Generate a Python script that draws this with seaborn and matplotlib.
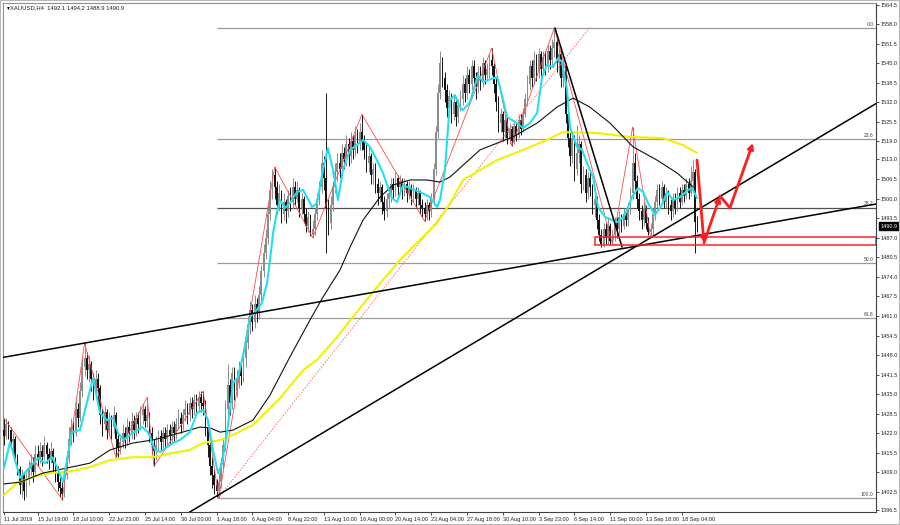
import numpy as np
import pandas as pd
import matplotlib
matplotlib.use("Agg")
import matplotlib.pyplot as plt
from matplotlib.patches import Rectangle
import seaborn as sns

# H4 candles, bar 0 = 11 Jul 2019; open of each bar = previous close
first_open = 1423.0
closes = [
    1421, 1425, 1423, 1419, 1420, 1414, 1410, 1405, 1408, 1403,
    1407, 1410, 1412, 1409, 1415, 1413, 1416, 1414, 1418, 1415,
    1413, 1416, 1412, 1409, 1406, 1404, 1402, 1408, 1414, 1420,
    1424, 1422, 1430, 1427, 1436, 1444, 1447, 1443, 1445, 1440,
    1436, 1440, 1437, 1428, 1425, 1429, 1423, 1426, 1424, 1428,
    1420, 1417, 1419, 1422, 1420, 1424, 1422, 1426, 1423, 1427,
    1425, 1428, 1430, 1426, 1428, 1422, 1418, 1416, 1418, 1421,
    1419, 1422, 1420, 1423, 1421, 1424, 1422, 1425, 1427, 1425,
    1428, 1430, 1428, 1432, 1430, 1433, 1431, 1434, 1432, 1431,
    1424, 1418, 1411, 1408, 1405, 1403, 1406, 1412, 1418, 1430,
    1438, 1432, 1442, 1436, 1440, 1443, 1441, 1447, 1452, 1458,
    1463, 1459, 1465, 1462, 1468, 1476, 1482, 1487, 1495, 1503,
    1508, 1504, 1498, 1502, 1495, 1499, 1496, 1501, 1499, 1504,
    1500, 1503, 1497, 1500, 1495, 1491, 1494, 1488, 1490, 1495,
    1500, 1504, 1512, 1507, 1497, 1492, 1498, 1504, 1509, 1512,
    1510, 1515, 1513, 1518, 1514, 1519, 1516, 1521, 1518, 1522,
    1519, 1516, 1512, 1514, 1508, 1510, 1505, 1502, 1504, 1499,
    1496, 1500, 1502, 1505, 1503, 1507, 1504, 1506, 1503, 1505,
    1502, 1504, 1501, 1503, 1500, 1502, 1498, 1497, 1495, 1498,
    1496, 1500, 1510, 1522, 1535, 1545, 1540, 1536, 1530, 1534,
    1528, 1532, 1527, 1531, 1533, 1538, 1535, 1541, 1538, 1544,
    1540, 1537, 1542, 1539, 1545, 1541, 1543, 1546, 1544, 1538,
    1532, 1525, 1528, 1522, 1526, 1520, 1523, 1519, 1524, 1521,
    1526, 1523, 1528, 1533, 1538, 1544, 1540, 1546, 1542, 1548,
    1543, 1547, 1544, 1549, 1546, 1550, 1552, 1545, 1548, 1540,
    1544, 1528, 1520, 1514, 1520, 1510, 1515, 1518, 1505, 1508,
    1502, 1507, 1504, 1498, 1500, 1493, 1488, 1485, 1490, 1487,
    1491, 1486, 1488, 1492, 1490, 1494, 1491, 1495, 1493, 1497,
    1502, 1512, 1506, 1500, 1496, 1493, 1497, 1492, 1489, 1490,
    1495, 1499, 1503, 1500, 1504, 1499, 1502, 1498, 1496, 1500,
    1497, 1502, 1499, 1503, 1501, 1505, 1502, 1506, 1509, 1492.1,
    1490.9,
]
highs = [
    1427, 1427, 1426, 1424, 1422, 1421, 1415, 1411, 1410, 1409,
    1409, 1413, 1415, 1414, 1418, 1418, 1419, 1418, 1421, 1419,
    1417, 1419, 1417, 1414, 1411, 1408, 1406, 1410, 1416, 1424,
    1427, 1426, 1433, 1432, 1439, 1447, 1452, 1449, 1448, 1446,
    1442, 1443, 1442, 1438, 1430, 1431, 1430, 1429, 1428, 1431,
    1429, 1422, 1421, 1425, 1424, 1427, 1426, 1429, 1428, 1429,
    1429, 1431, 1432, 1431, 1434, 1429, 1424, 1420, 1421, 1423,
    1423, 1424, 1424, 1425, 1425, 1426, 1426, 1427, 1430, 1429,
    1430, 1433, 1432, 1434, 1434, 1435, 1435, 1436, 1436, 1436,
    1433, 1426, 1420, 1414, 1410, 1407, 1409, 1414, 1420, 1433,
    1445, 1440, 1444, 1444, 1443, 1446, 1446, 1450, 1455, 1461,
    1466, 1465, 1468, 1467, 1471, 1478, 1485, 1490, 1498, 1506,
    1510, 1510.5, 1506, 1505, 1503, 1502, 1500, 1503, 1504, 1507,
    1506, 1506, 1504, 1502, 1501, 1497, 1496, 1495, 1493, 1497,
    1502, 1506, 1516, 1514, 1535, 1500, 1501, 1506, 1512, 1515,
    1515, 1518, 1517, 1521, 1520, 1522, 1521, 1524, 1523, 1525,
    1528, 1521, 1518, 1517, 1515, 1512, 1512, 1507, 1506, 1505,
    1501, 1502, 1504, 1507, 1507, 1509, 1508, 1508, 1507, 1507,
    1506, 1506, 1505, 1505, 1504, 1504, 1503, 1500, 1499, 1500,
    1499, 1502, 1512, 1524, 1538, 1549, 1547, 1542, 1538, 1536,
    1535, 1534, 1533, 1533, 1536, 1541, 1540, 1544, 1543, 1546,
    1546, 1542, 1544, 1544, 1547, 1546, 1545, 1548, 1550, 1545,
    1540, 1534, 1530, 1529, 1528, 1527, 1525, 1524, 1526, 1525,
    1528, 1528, 1530, 1535, 1541, 1546, 1546, 1549, 1548, 1550,
    1549, 1549, 1549, 1551, 1551, 1553, 1556.7, 1553, 1550, 1549,
    1546, 1545, 1530, 1522, 1522, 1521, 1524.5, 1521, 1519, 1511,
    1510, 1509, 1509, 1505, 1502, 1501, 1495, 1490, 1492, 1492,
    1494, 1492, 1490, 1494, 1494, 1496, 1495, 1497, 1497, 1499,
    1504, 1523.8, 1515, 1508, 1502, 1498, 1499, 1498, 1494, 1492,
    1497, 1501, 1505, 1505, 1506, 1505, 1504, 1503, 1500, 1502,
    1502, 1504, 1504, 1505, 1505, 1507, 1507, 1511, 1513, 1510,
    1494.2,
]
lows = [
    1418, 1420, 1420, 1417, 1416, 1412, 1408, 1402, 1401, 1400,
    1401, 1405, 1408, 1406, 1408, 1411, 1412, 1411, 1413, 1412,
    1410, 1412, 1409, 1406, 1403, 1401, 1400, 1401, 1407, 1412,
    1418, 1419, 1421, 1424, 1426, 1434, 1441, 1440, 1439, 1436,
    1433, 1434, 1432, 1425, 1421, 1423, 1420, 1421, 1420, 1422,
    1414, 1414, 1415, 1417, 1417, 1418, 1419, 1420, 1420, 1421,
    1422, 1423, 1425, 1424, 1424, 1419, 1415, 1411, 1413, 1416,
    1416, 1417, 1417, 1418, 1418, 1419, 1419, 1420, 1423, 1422,
    1423, 1426, 1425, 1426, 1427, 1428, 1428, 1429, 1429, 1428,
    1421, 1414, 1408, 1404, 1402, 1401, 1400.5, 1404, 1410, 1416,
    1425, 1428, 1430, 1433, 1434, 1437, 1438, 1439, 1444, 1450,
    1455, 1456, 1457, 1459, 1460, 1466, 1474, 1480, 1485, 1493,
    1500, 1500, 1495, 1496, 1492, 1493, 1492, 1494, 1496, 1497,
    1498, 1499, 1494, 1495, 1492, 1489, 1489, 1487.5, 1487, 1488,
    1493, 1498, 1502, 1503, 1482, 1488, 1490, 1496, 1502, 1506,
    1507, 1508, 1510, 1511, 1511, 1512, 1513, 1514, 1515, 1516,
    1516, 1513, 1509, 1509, 1505, 1505, 1502, 1498, 1499, 1495,
    1493, 1494, 1497, 1499, 1500, 1501, 1501, 1502, 1500, 1501,
    1499, 1500, 1498, 1499, 1497, 1498, 1495, 1494, 1492.5, 1493,
    1493, 1494, 1498, 1508, 1520, 1533, 1537, 1532, 1527, 1528,
    1525, 1526, 1524, 1525, 1529, 1531, 1532, 1533, 1535, 1536,
    1537, 1533, 1535, 1536, 1537, 1538, 1539, 1540, 1541, 1535,
    1529, 1522, 1522, 1519, 1520, 1518, 1518, 1517.5, 1518, 1519,
    1520, 1521, 1522, 1527, 1531, 1536, 1537, 1538, 1539, 1540,
    1540, 1541, 1541, 1542, 1543, 1544, 1547, 1542, 1541, 1537,
    1537, 1525, 1517, 1511, 1512, 1506, 1508, 1512, 1502, 1503,
    1499, 1500, 1501, 1495, 1494, 1490, 1486, 1484, 1484, 1485,
    1485, 1485, 1484.9, 1486, 1487, 1488, 1489, 1490, 1491, 1491,
    1495, 1500, 1503, 1497, 1493, 1490, 1491, 1490, 1488, 1487.3,
    1488, 1493, 1497, 1498, 1499, 1497, 1497, 1495, 1493, 1494,
    1495, 1496, 1497, 1498, 1499, 1500, 1500, 1501, 1503, 1482,
    1488.9,
]

# indicator lines (bar index, price)
fast_ma_bar = [0, 2.7, 7.2, 11.6, 15.2, 18.3, 21.5, 23.7, 26.4, 30.4, 34.0, 39.8,
               42.9, 46.0, 48.7, 51.0, 53.2, 57.7, 61.7, 64.4, 67.5, 69.7, 72.9,
               75.5, 78.7, 83.1, 86.3, 89.0, 91.2, 93.4, 95.7, 97.5, 99.7, 102.4,
               104.6, 107.7, 110.0, 112.2, 115.3, 117.6, 118.9, 120.3, 122.0,
               123.4, 125.6, 127.8, 131.0, 133.7, 137.7, 139.9, 142.6, 144.8,
               147.1, 149.3, 151.5, 154.7, 157.8, 160.5, 163.6, 166.7, 169.4,
               173.4, 175.7, 178.4, 181.5, 185.9, 190.4, 193.6, 194.9, 197.1,
               199.4, 201.6, 203.8, 205.2, 208.3, 211.9, 214.1, 220.4, 221.7,
               224.9, 229.3, 232.0, 235.1, 238.3, 240.5, 242.7, 245.4, 247.7,
               249.4, 251.7, 253.0, 256.1, 258.4, 260.6, 263.3, 265.5, 268.7,
               271.8, 274.5, 277.6, 280.7, 283.4, 285.7, 287.9, 291.0, 294.1,
               296.4, 299.1, 302.2, 305.8, 307.6, 309.8]
fast_ma = [1410.5, 1419.1, 1407.2, 1410.8, 1413.8, 1412.1, 1414.1, 1410.8, 1405.8,
           1422.4, 1423.1, 1440.4, 1428.8, 1426.4, 1427.1, 1422.1, 1419.8, 1422.1,
           1424.1, 1422.4, 1416.5, 1415.8, 1417.5, 1418.8, 1419.8, 1422.4, 1428.8,
           1429.8, 1426.4, 1416.5, 1408.8, 1412.1, 1422.1, 1438.7, 1440.7, 1450.7,
           1460.7, 1462.3, 1465.3, 1472.0, 1479.6, 1488.6, 1495.6, 1499.5, 1496.9,
           1498.5, 1502.2, 1502.9, 1497.2, 1498.5, 1509.5, 1516.8, 1509.5, 1499.5,
           1509.5, 1516.2, 1517.8, 1519.5, 1517.2, 1512.8, 1508.5, 1500.2, 1498.9,
           1504.5, 1503.5, 1502.2, 1500.5, 1497.2, 1499.5, 1509.5, 1532.8, 1534.4,
           1530.4, 1529.4, 1532.1, 1541.1, 1538.8, 1540.4, 1537.1, 1527.1, 1525.1,
           1523.5, 1525.1, 1528.4, 1540.4, 1544.4, 1543.7, 1546.7, 1545.4, 1536.1,
           1523.8, 1517.2, 1516.2, 1511.8, 1507.2, 1497.2, 1493.9, 1492.9, 1492.2,
           1494.6, 1500.5, 1503.5, 1502.2, 1498.5, 1494.6, 1497.9, 1502.2, 1499.5,
           1500.5, 1502.9, 1503.5, 1500.2]

mid_ma_bar = [0, 7.2, 17.4, 38.4, 47.4, 57.7, 66.6, 75.5, 83.1, 87.6, 92.1, 96.6,
              102.4, 111.3, 118.9, 127.8, 136.8, 142.6, 150.2, 154.7, 160.5, 168.1,
              173.9, 181.5, 189.1, 194.9, 199.4, 212.8, 227.5, 238.3, 247.2, 254.4,
              261.9, 270.9, 281.2, 291.9, 300.9, 308.0]
mid_ma = [1405.2, 1405.8, 1408.8, 1412.1, 1416.5, 1418.8, 1419.8, 1421.5, 1423.1,
          1424.1, 1423.8, 1422.4, 1423.1, 1426.4, 1434.7, 1447.4, 1459.7, 1467.3,
          1476.3, 1483.9, 1492.9, 1500.5, 1504.5, 1506.2, 1506.2, 1505.5, 1507.2,
          1516.2, 1520.5, 1525.1, 1530.4, 1533.4, 1530.4, 1525.1, 1517.2, 1512.8,
          1508.5, 1503.9]

slow_ma_bar = [0, 5.8, 13.0, 20.6, 28.2, 37.1, 47.4, 57.7, 66.6, 75.5, 83.1, 89.0,
               96.6, 102.4, 111.3, 123.4, 133.7, 139.9, 148.9, 156.0, 166.7, 177.0,
               184.6, 193.6, 199.4, 205.2, 220.4, 232.0, 242.7, 249.9, 265.1, 279.8,
               294.6, 303.5, 309.8]
slow_ma = [1401.5, 1405.5, 1407.5, 1408.8, 1409.2, 1410.5, 1413.1, 1414.1, 1414.1,
           1415.5, 1416.5, 1418.8, 1419.8, 1421.5, 1424.8, 1433.7, 1443.0, 1446.4,
           1454.0, 1460.7, 1470.6, 1479.6, 1485.3, 1491.9, 1498.5, 1506.2, 1512.8,
           1516.2, 1519.5, 1522.1, 1521.8, 1520.5, 1520.1, 1517.8, 1515.2]

zigzag_bar = [0, 26, 36, 50, 64, 67, 89, 96, 121, 138, 160, 188, 218, 227, 246, 272, 281, 289]
zigzag_px = [1427, 1400, 1452, 1414, 1434, 1411, 1436, 1400.5, 1510.5, 1487, 1528,
             1492.5, 1550, 1517.5, 1556.7, 1484.9, 1523.8, 1487.3]

# drawing objects
fib_start = 95
fib_levels = [1556.7, 1519.8, 1497.0, 1478.6, 1460.2, 1400.5]
fib_labels = ["0.0", "23.6", "38.2", "50.0", "61.8", "100.0"]
fib_colors = ["#9a9a9a", "#9a9a9a", "#505050", "#9a9a9a", "#9a9a9a", "#9a9a9a"]
upper_trend = [(0, 1447.3), (389.8, 1498.2)]
lower_trend = [(83.1, 1395.9), (390.3, 1531.8)]
down_trend = [(246.3, 1556.7), (276.3, 1483.9)]
dotted_line = [(95.7, 1400.5), (262.0, 1557.0)]
zone_left, zone_low, zone_high = 264.2, 1484.6, 1487.3
path_bar = [309.8, 312.9, 320.1, 324.5, 334.8]
path_px = [1512.8, 1485.3, 1500.9, 1496.9, 1518.5]

y_ticks = [1564.5, 1558.0, 1551.5, 1545.0, 1538.5, 1532.0, 1525.5, 1519.0, 1513.0,
           1506.5, 1500.0, 1493.5, 1487.0, 1480.5, 1474.0, 1467.5, 1461.0, 1454.5,
           1448.0, 1441.5, 1435.0, 1428.5, 1422.0, 1415.5, 1409.0, 1402.5, 1396.5]
x_ticks = [0, 15, 31, 47, 63, 79, 95, 111, 127, 143, 159, 175, 191, 207, 223, 239,
           255, 271, 287, 303]
x_labels = ["11 Jul 2019", "15 Jul 19:00", "18 Jul 10:00", "22 Jul 23:00",
            "25 Jul 14:00", "30 Jul 00:00", "1 Aug 18:00", "6 Aug 04:00",
            "8 Aug 22:00", "13 Aug 10:00", "16 Aug 00:00", "20 Aug 14:00",
            "23 Aug 04:00", "27 Aug 18:00", "30 Aug 10:00", "3 Sep 23:00",
            "6 Sep 14:00", "11 Sep 00:00", "13 Sep 18:00", "18 Sep 04:00"]
title = "XAUUSD,H4  1492.1 1494.2 1488.9 1490.9"
last_price = 1490.9

sns.set_theme(style="white")
plt.rcParams['font.family'] = ['Liberation Sans', 'DejaVu Sans']

c = np.array(closes, dtype=float)
o = np.concatenate([[first_open], c[:-1]])
h = np.maximum(np.array(highs, dtype=float), np.maximum(o, c))
l = np.minimum(np.array(lows, dtype=float), np.minimum(o, c))
bars = np.arange(len(c))
up = c >= o

fig = plt.figure(figsize=(9, 5.25), dpi=100)
ax = fig.add_axes([3 / 900, 1 - 512 / 525, 873 / 900, 509 / 525])
ax.set_xlim(-0.45, 389.8)
ax.set_ylim(1395.87, 1565.0)

# fibonacci levels
ax.hlines(fib_levels, fib_start, 389.8, colors=fib_colors, lw=0.9, zorder=1)
for lvl, lab in zip(fib_levels, fib_labels):
    ax.text(0.997, lvl + 0.4, lab, transform=ax.get_yaxis_transform(), ha='right',
            va='bottom', fontsize=3.6, color='#404040', zorder=2)

# candles
col = np.where(up, '#8c8c8c', '#141414')
ax.vlines(bars, l, h, colors=col, lw=0.7, zorder=3)
ax.bar(bars, np.maximum(np.abs(c - o), 0.3), bottom=np.minimum(o, c), width=0.75,
       color=col, linewidth=0, zorder=3)

# indicators
sns.lineplot(data=pd.DataFrame({'bar': zigzag_bar, 'price': zigzag_px}), x='bar', y='price',
             color='#ff4a4a', linewidth=0.6, sort=False, ax=ax, zorder=4)
sns.lineplot(data=pd.DataFrame({'bar': slow_ma_bar, 'price': slow_ma}), x='bar', y='price',
             color='#f2f200', linewidth=1.5, ax=ax, zorder=5)
sns.lineplot(data=pd.DataFrame({'bar': mid_ma_bar, 'price': mid_ma}), x='bar', y='price',
             color='#101010', linewidth=0.8, ax=ax, zorder=5)
sns.lineplot(data=pd.DataFrame({'bar': fast_ma_bar, 'price': fast_ma}), x='bar', y='price',
             color='#22dff0', linewidth=1.5, ax=ax, zorder=6)

# trend lines
ax.axline(upper_trend[0], upper_trend[1], color='black', lw=1.1, zorder=7)
ax.axline(lower_trend[0], lower_trend[1], color='black', lw=1.1, zorder=7)
ax.plot(*zip(*down_trend), color='black', lw=1.1, zorder=7)
ax.plot(*zip(*dotted_line), color='#ff6a6a', lw=0.7, ls=(0, (1.5, 1.5)), zorder=4)

# support zone
ax.add_patch(Rectangle((zone_left, zone_low), 389.8 - zone_left, zone_high - zone_low,
                       fill=False, edgecolor='#ff2222', lw=1.1, zorder=8))

# projected path
arrow_kw = dict(arrowstyle='-|>', color='#ff1e1e', lw=2.0, mutation_scale=8,
                shrinkA=0, shrinkB=0)
ax.annotate('', xy=(path_bar[1], path_px[1]), xytext=(path_bar[0], path_px[0]),
            arrowprops=arrow_kw, zorder=9)
ax.annotate('', xy=(path_bar[2], path_px[2]), xytext=(path_bar[1], path_px[1]),
            arrowprops=arrow_kw, zorder=9)
ax.plot(path_bar[2:4], path_px[2:4], color='#ff1e1e', lw=2.0, solid_capstyle='round', zorder=9)
ax.annotate('', xy=(path_bar[4], path_px[4]), xytext=(path_bar[3], path_px[3]),
            arrowprops=arrow_kw, zorder=9)

# axes cosmetics
ax.set_xlabel('')
ax.set_ylabel('')
ax.yaxis.tick_right()
ax.set_yticks(y_ticks)
ax.set_yticklabels([f"{v:.1f}" for v in y_ticks])
ax.set_xticks(x_ticks)
ax.set_xticklabels(x_labels)
for t in ax.get_xticklabels():
    t.set_ha('left')
ax.tick_params(axis='y', right=True, length=2, width=0.6, color='#303030',
               labelsize=4, pad=1.2, labelcolor='#202020')
ax.tick_params(axis='x', bottom=True, length=2, width=0.6, color='#303030',
               labelsize=4, pad=1.5, labelcolor='#202020')
for side in ['left', 'top']:
    ax.spines[side].set_color('#909090')
    ax.spines[side].set_linewidth(0.8)
for side in ['right', 'bottom']:
    ax.spines[side].set_color('#404040')
    ax.spines[side].set_linewidth(0.8)

ax.annotate(f"{last_price:.1f}", xy=(1.0, last_price), xycoords=ax.get_yaxis_transform(),
            xytext=(3, 0), textcoords='offset points', ha='left', va='center',
            fontsize=4, color='white',
            bbox=dict(boxstyle='square,pad=0.25', fc='black', ec='black'), zorder=10,
            annotation_clip=False)

fig.text(5 / 900, 1 - 8 / 525, "\u25bc", fontsize=3.5, color='black', va='center')
fig.text(10 / 900, 1 - 8 / 525, title, fontsize=4.2, color='#202020', va='center')
fig.patches.append(Rectangle((0, 0), 1, 1, transform=fig.transFigure, fill=False,
                             edgecolor='#b8b8b8', lw=1.5))

fig.savefig("out.png", dpi=100, facecolor='white')
